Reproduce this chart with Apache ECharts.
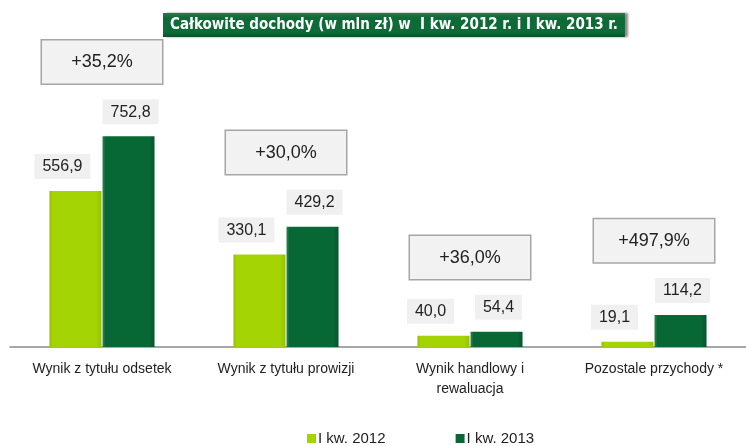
<!DOCTYPE html>
<html>
<head>
<meta charset="utf-8">
<script src="https://cdn.jsdelivr.net/npm/echarts@6/dist/echarts.min.js"></script>
<style>
  html, body { margin: 0; padding: 0; background: #fff; }
  #main { width: 746px; height: 446px; }
</style>
</head>
<body>
<div id="main"></div>
<script>
var categories = ['Wynik z tytułu odsetek', 'Wynik z tytułu prowizji', 'Wynik handlowy i\nrewaluacja', 'Pozostale przychody *'];
var q2012 = [556.9, 330.1, 40.0, 19.1];
var q2013 = [752.8, 429.2, 54.4, 114.2];
var growth = ['+35,2%', '+30,0%', '+36,0%', '+497,9%'];

var font = '"Liberation Sans", sans-serif';
var narrow = '"DejaVu Sans Condensed", "Liberation Sans", sans-serif';

function fmt(v) {
    return v.toFixed(1).replace('.', ',');
}

var chart = echarts.init(document.getElementById('main'));

var valueLabel = {
    show: true,
    position: 'top',
    distance: 12,
    formatter: function (p) { return fmt(p.value); },
    fontFamily: font,
    fontSize: 16,
    color: '#222',
    backgroundColor: '#f0f0f0',
    padding: [5, 8, 4, 8]
};

var option = {
    animation: false,
    title: {
        text: 'Całkowite dochody (w mln zł) w  I kw. 2012 r. i I kw. 2013 r.',
        left: 163,
        top: 13,
        padding: [5, 7, 4, 7],
        backgroundColor: new echarts.graphic.LinearGradient(0, 0, 0, 1, [
            { offset: 0, color: '#2a7a4c' },
            { offset: 0.2, color: '#0e6a36' },
            { offset: 0.8, color: '#0e6a36' },
            { offset: 1, color: '#08522a' }
        ]),
        shadowColor: 'rgba(0,0,0,0.45)',
        shadowOffsetX: 3,
        shadowBlur: 2,
        textStyle: {
            color: '#fff',
            fontFamily: narrow,
            fontWeight: 'bold',
            fontSize: 15
        }
    },
    legend: {
        top: 426,
        left: 302,
        itemWidth: 9,
        itemHeight: 9,
        itemGap: 70,
        icon: 'rect',
        textStyle: { fontFamily: font, fontSize: 15, color: '#222', padding: [0, 0, 0, -3] },
        data: ['I kw. 2012', 'I kw. 2013']
    },
    grid: { left: 10, width: 744, top: 11, bottom: 99 },
    xAxis: {
        type: 'category',
        data: categories,
        axisLine: { lineStyle: { color: '#8c8c8c', width: 1.5 } },
        axisTick: { length: 6, lineStyle: { color: '#8c8c8c', width: 1.5 } },
        axisLabel: {
            interval: 0,
            margin: 12,
            fontFamily: font,
            fontSize: 14,
            color: '#222',
            lineHeight: 20
        }
    },
    yAxis: { type: 'value', min: 0, max: 1200, show: false },
    series: [
        {
            name: 'I kw. 2012',
            type: 'bar',
            barWidth: 52,
            barGap: '2%',
            data: q2012,
            itemStyle: {
                color: new echarts.graphic.LinearGradient(0, 0, 1, 0, [
                    { offset: 0, color: '#8fbd06' },
                    { offset: 0.06, color: '#a4d404' },
                    { offset: 0.9, color: '#a4d404' },
                    { offset: 1, color: '#93c004' }
                ])
            },
            label: Object.assign({}, valueLabel, { offset: [-13, 0] })
        },
        {
            name: 'I kw. 2013',
            type: 'bar',
            barWidth: 52,
            data: q2013,
            itemStyle: {
                color: new echarts.graphic.LinearGradient(0, 0, 1, 0, [
                    { offset: 0, color: '#2e8050' },
                    { offset: 0.06, color: '#076835' },
                    { offset: 0.9, color: '#076835' },
                    { offset: 1, color: '#05552a' }
                ])
            },
            label: Object.assign({}, valueLabel, { offset: [2, 0] })
        },
        {
            name: 'growth',
            type: 'scatter',
            symbolSize: 0,
            silent: true,
            itemStyle: { opacity: 1 },
            data: categories.map(function (c, i) {
                return [i, Math.max(q2012[i], q2013[i]) + 265];
            }),
            label: {
                show: true,
                position: 'inside',
                formatter: function (p) { return growth[p.dataIndex]; },
                fontFamily: font,
                fontSize: 18,
                color: '#222',
                backgroundColor: '#f2f2f2',
                borderColor: '#a6a6a6',
                borderWidth: 1.5,
                width: 120,
                height: 43,
                align: 'center',
                verticalAlign: 'middle',
                lineHeight: 43
            }
        }
    ]
};

chart.setOption(option);
</script>
</body>
</html>
